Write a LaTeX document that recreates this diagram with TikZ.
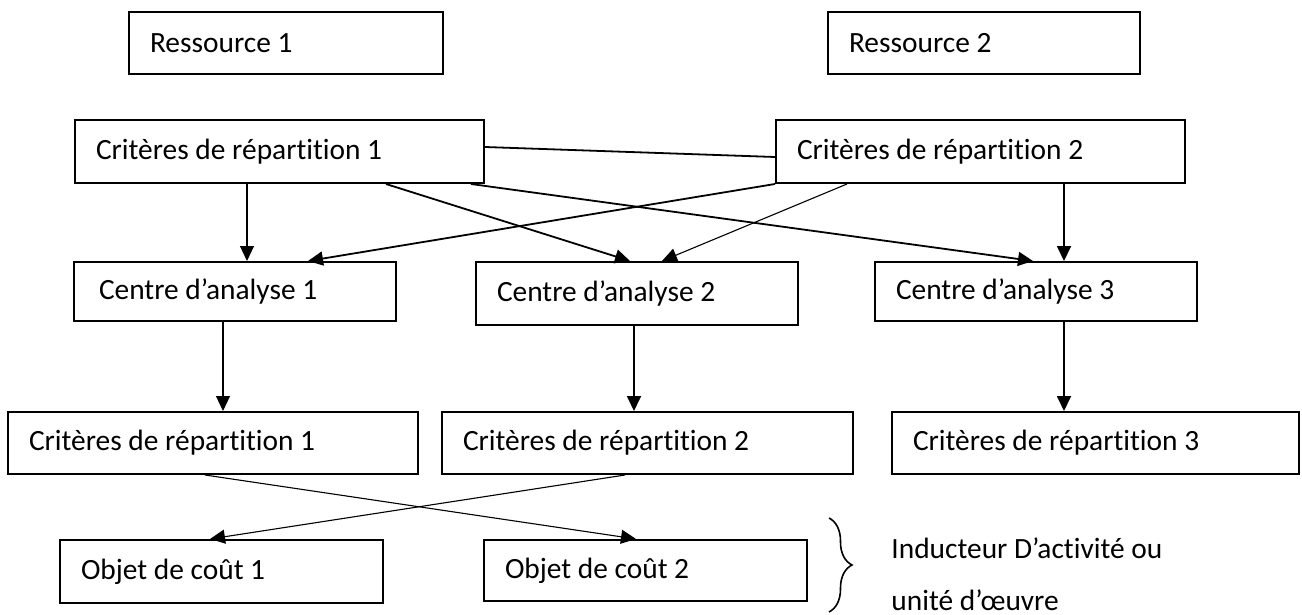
\documentclass[tikz,border=0pt]{standalone}
\usepackage{fontspec}
\setmainfont{Carlito}[Ligatures={NoCommon}]
\usetikzlibrary{arrows.meta,calc,decorations.pathreplacing}
\begin{document}
\begin{tikzpicture}[x=0.5pt,y=-0.5pt,
  box/.style={draw,line width=1pt,anchor=north west,inner xsep=10.5pt,inner ysep=0pt,
    align=flush left,font=\fontsize{14.7pt}{17pt}\selectfont},
  lbl/.style={anchor=west,inner sep=0pt,font=\fontsize{14.7pt}{17pt}\selectfont},
  tip/.style={-{Triangle[length=7.5pt,width=7pt]}},
  lnthin/.style={line width=0.55pt},
  lnthick/.style={line width=0.9pt}]
\useasboundingbox (0,0) rectangle (1302,615);

% resources
\node[box,text width=136pt,minimum height=31pt] (r1) at (128,11) {Ressource 1};
\node[box,text width=135pt,minimum height=31pt] (r2) at (827,11) {Ressource 2};

% first allocation keys
\node[box,text width=183.5pt,minimum height=31.5pt] (k1) at (74,119) {Critères de répartition 1};
\node[box,text width=183.5pt,minimum height=31.5pt] (k2) at (775,119) {Critères de répartition 2};

% analysis centres
\node[box,inner xsep=12.5pt,text width=136pt,minimum height=29.5pt] (c1) at (73,261) {Centre d’analyse 1};
\node[box,text width=140pt,minimum height=31.5pt] (c2) at (475,261) {Centre d’analyse 2};
\node[box,text width=140pt,minimum height=29.5pt] (c3) at (874,261) {Centre d’analyse 3};

% second allocation keys
\node[box,text width=184pt,minimum height=31pt] (b1) at (7,411) {Critères de répartition 1};
\node[box,text width=184.5pt,minimum height=31pt] (b2) at (441,411) {Critères de répartition 2};
\node[box,text width=182.5pt,minimum height=31pt] (b3) at (891,411) {Critères de répartition 3};

% cost objects
\node[box,text width=140.5pt,minimum height=31.5pt] (o1) at (59,539) {Objet de coût 1};
\node[box,text width=140.5pt,minimum height=30.5pt] (o2) at (483,539) {Objet de coût 2};

% links between the first keys and the centres
\draw[lnthick] ($(k1.north east)+(0,28)$) -- ($(k2.north west)+(0,38)$);
\draw[lnthin,tip] ($(k1.south west)+(173,0)$) -- ($(c1.north west)+(174,0)$);
\draw[lnthick,tip] ($(k1.south west)+(312,0)$) -- ($(c2.north west)+(155,0)$);
\draw[lnthick,tip] ($(k1.south west)+(397,0)$) -- ($(c3.north west)+(159,0)$);
\draw[lnthick,tip] (k2.south west) -- ($(c1.north west)+(235,0)$);
\draw[lnthin,tip] ($(k2.south west)+(72,0)$) -- ($(c2.north west)+(187,0)$);
\draw[lnthick,tip] ($(k2.south west)+(289,0)$) -- ($(c3.north west)+(190,0)$);

% centres to second keys
\draw[lnthin,tip] ($(c1.south west)+(150,0)$) -- ($(b1.north west)+(216,0)$);
\draw[lnthick,tip] ($(c2.south west)+(159,0)$) -- ($(b2.north west)+(193,0)$);
\draw[lnthick,tip] ($(c3.south west)+(190,0)$) -- ($(b3.north west)+(173,0)$);

% second keys to cost objects
\draw[lnthin,tip] ($(b1.south west)+(198,0)$) -- ($(o2.north west)+(153,0)$);
\draw[lnthin,tip] ($(b2.south west)+(184,0)$) -- ($(o1.north west)+(151,0)$);

% brace and its caption
\coordinate (bt) at (829,518);
\coordinate (bb) at (829,612);
\draw[line width=0.8pt,decorate,decoration={brace,amplitude=11.5pt}] (bt) -- (bb);
\node[lbl] (ind) at (891,548) {Inducteur D’activité ou};
\node[lbl] (uo) at (891,600) {unité d’œuvre};
\end{tikzpicture}
\end{document}
